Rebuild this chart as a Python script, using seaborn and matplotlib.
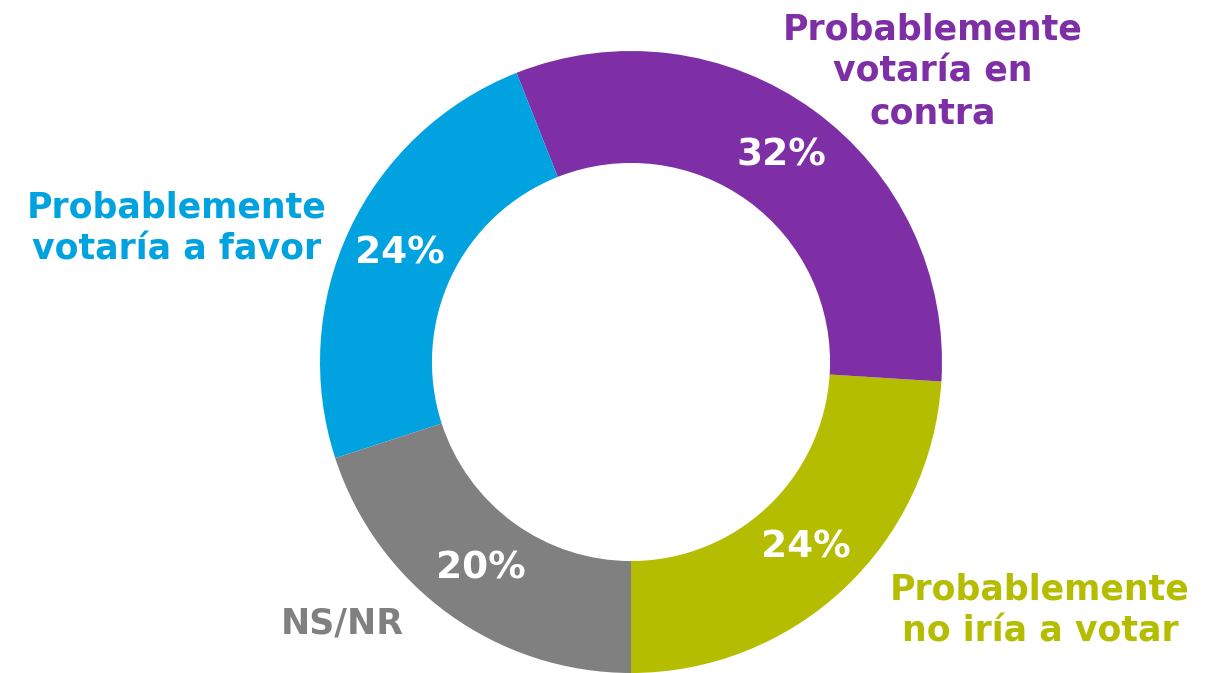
import matplotlib
matplotlib.use("Agg")
import matplotlib.pyplot as plt
import seaborn as sns

sns.set_theme(style="white")
plt.rcParams['font.family'] = ['DejaVu Sans']

# Data (counterclockwise from the bottom)
categories = ['Probablemente\nno iría a votar', 'Probablemente\nvotaría en\ncontra',
              'Probablemente\nvotaría a favor', 'NS/NR']
values = [24, 32, 24, 20]
colors = ['#B5BD00', '#7F2FA6', '#00A3E0', '#808080']

# label anchors in data units (radius = 1)
label_pos = [(1.315, -0.80), (0.97, 0.935), (-1.46, 0.43), (-0.93, -0.84)]

fig = plt.figure(figsize=(12.23, 6.73), dpi=100)
ax = fig.add_axes([0, 0, 1, 1])

wedges, _, autotexts = ax.pie(
    values, colors=colors, startangle=270, counterclock=True,
    autopct='%1.0f%%', pctdistance=0.82,
    wedgeprops=dict(width=0.36, edgecolor='none'),
    textprops=dict(color='white', fontsize=27, fontweight='bold'))

for (x, y), label, c in zip(label_pos, categories, colors):
    ax.text(x, y, label, color=c, fontsize=25, fontweight='bold',
            ha='center', va='center', linespacing=1.3)

ax.set_aspect('equal')
ax.set_xlim(-631 / 311, (1223 - 631) / 311)
ax.set_ylim(-1.0, 362 / 311)
ax.axis('off')

fig.savefig('out.png', dpi=100)
